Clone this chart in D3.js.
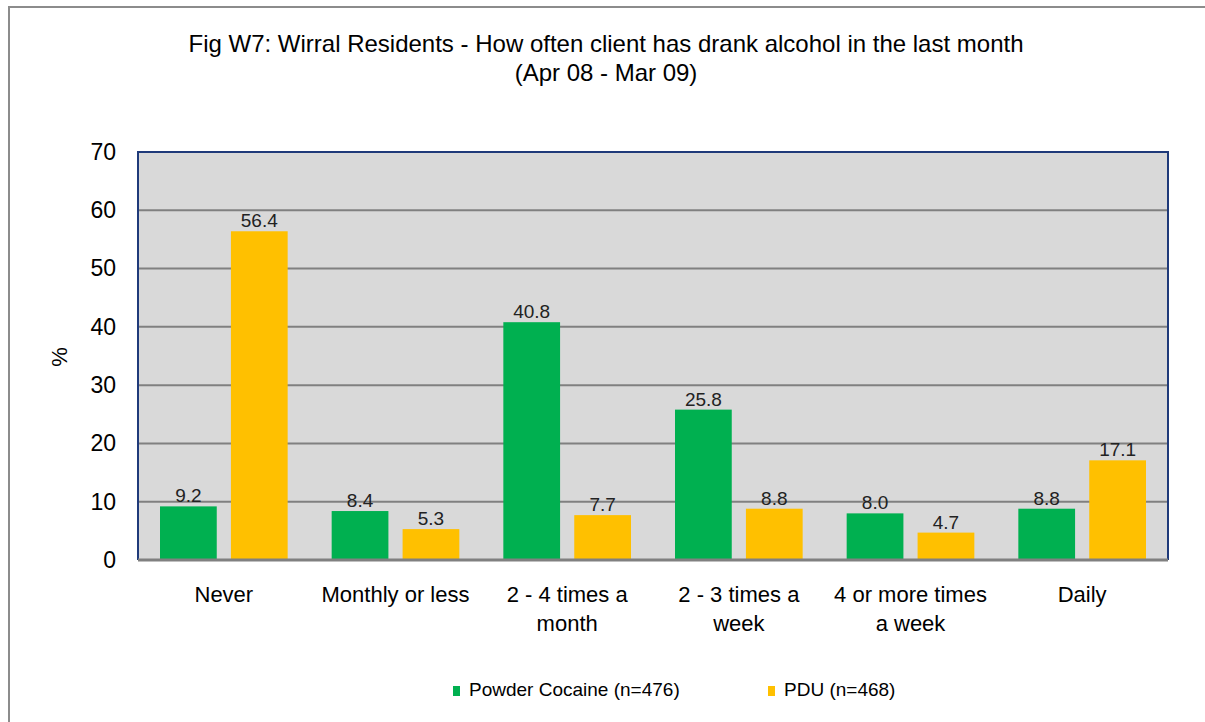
<!DOCTYPE html>
<meta charset="utf-8">
<style>

body {
  margin: 0;
  background: #fff;
  font-family: "Liberation Sans", Arial, sans-serif;
}

.axis text {
  font: 22px "Liberation Sans", Arial, sans-serif;
  fill: #000;
}

.yaxis text {
  font-size: 23px;
}

.grid line {
  stroke: #808080;
  stroke-width: 2px;
}

.title {
  font-size: 24px;
  text-anchor: middle;
}

.value {
  font-size: 19px;
  fill: #222;
  text-anchor: middle;
}

</style>
<body>
<svg width="1205" height="722"></svg>
</body>

<script src="https://d3js.org/d3.v7.min.js"></script>
<script>

var categories = [["Never"], ["Monthly or less"], ["2 - 4 times a", "month"], ["2 - 3 times a", "week"], ["4 or more times", "a week"], ["Daily"]];
var seriesNames = ["Powder Cocaine (n=476)", "PDU (n=468)"];
var cocaine = [9.2, 8.4, 40.8, 25.8, 8.0, 8.8];
var pdu = [56.4, 5.3, 7.7, 8.8, 4.7, 17.1];
var yTicks = [0, 10, 20, 30, 40, 50, 60, 70];
var colors = ["#00b050", "#ffc000"];

var svg = d3.select("svg"),
    margin = {top: 152, right: 37, bottom: 162, left: 138},
    width = 1205 - margin.left - margin.right,
    height = 722 - margin.top - margin.bottom;

// outer frame
svg.append("path")
    .attr("d", "M9,722V7H1205")
    .attr("fill", "none")
    .attr("stroke", "#8c8c8c")
    .attr("stroke-width", 2);

svg.append("text")
    .attr("class", "title")
    .attr("x", 606)
    .attr("y", 52)
    .text("Fig W7: Wirral Residents - How often client has drank alcohol in the last month");
svg.append("text")
    .attr("class", "title")
    .attr("x", 606)
    .attr("y", 81)
    .text("(Apr 08 - Mar 09)");

var g = svg.append("g")
    .attr("transform", "translate(" + margin.left + "," + margin.top + ")");

var x0 = d3.scaleBand()
    .domain(d3.range(categories.length))
    .range([0, width]);

var x1 = d3.scaleBand()
    .domain([0, 1])
    .range([22, x0.bandwidth() - 22])
    .paddingInner(0.2);

var y = d3.scaleLinear()
    .domain([0, 70])
    .range([height, 0]);

g.append("rect")
    .attr("width", width)
    .attr("height", height)
    .attr("fill", "#d9d9d9");

g.append("g")
    .attr("class", "grid")
  .selectAll("line")
  .data(yTicks.slice(1, -1))
  .enter().append("line")
    .attr("x1", 0)
    .attr("x2", width)
    .attr("y1", function(d) { return y(d); })
    .attr("y2", function(d) { return y(d); });

var data = categories.map(function(c, i) { return [cocaine[i], pdu[i]]; });

var group = g.selectAll(".group")
  .data(data)
  .enter().append("g")
    .attr("class", "group")
    .attr("transform", function(d, i) { return "translate(" + x0(i) + ",0)"; });

group.selectAll("rect")
  .data(function(d) { return d; })
  .enter().append("rect")
    .attr("x", function(d, j) { return x1(j); })
    .attr("width", x1.bandwidth())
    .attr("y", function(d) { return y(d); })
    .attr("height", function(d) { return height - y(d); })
    .attr("fill", function(d, j) { return colors[j]; });

group.selectAll(".value")
  .data(function(d) { return d; })
  .enter().append("text")
    .attr("class", "value")
    .attr("x", function(d, j) { return x1(j) + x1.bandwidth() / 2; })
    .attr("y", function(d) { return y(d) - 4; })
    .text(function(d) { return d.toFixed(1); });

// plot border: blue left/top/right, grey base
g.append("path")
    .attr("d", "M0," + height + "V0H" + width + "V" + height)
    .attr("fill", "none")
    .attr("stroke", "#1f3a7a")
    .attr("stroke-width", 2);
g.append("line")
    .attr("x1", 0).attr("x2", width)
    .attr("y1", height).attr("y2", height)
    .attr("stroke", "#808080")
    .attr("stroke-width", 3);

var yAxis = g.append("g")
    .attr("class", "axis yaxis")
    .call(d3.axisLeft(y).tickValues(yTicks).tickSize(0).tickPadding(22));
yAxis.select(".domain").remove();

var xAxis = g.append("g")
    .attr("class", "axis")
    .attr("transform", "translate(0," + height + ")")
    .call(d3.axisBottom(x0).tickSize(0).tickFormat(""));
xAxis.select(".domain").remove();
xAxis.selectAll(".tick text").remove();
xAxis.selectAll(".tick").each(function(i) {
  var t = d3.select(this).append("text")
      .attr("text-anchor", "middle")
      .attr("y", 42);
  categories[i].forEach(function(line, k) {
    t.append("tspan").attr("x", 0).attr("dy", k ? 29 : 0).text(line);
  });
});

svg.append("text")
    .attr("transform", "translate(67,357) rotate(-90)")
    .attr("text-anchor", "middle")
    .attr("font-size", 22)
    .text("%");

var legendX = [453, 768];
var legend = svg.selectAll(".legend")
  .data(seriesNames)
  .enter().append("g")
    .attr("class", "legend")
    .attr("transform", function(d, i) { return "translate(" + legendX[i] + ",686)"; });
legend.append("rect")
    .attr("width", 7)
    .attr("height", 10)
    .attr("fill", function(d, i) { return colors[i]; });
legend.append("text")
    .attr("x", 16)
    .attr("y", 10)
    .attr("font-size", 19)
    .text(function(d) { return d; });

</script>
